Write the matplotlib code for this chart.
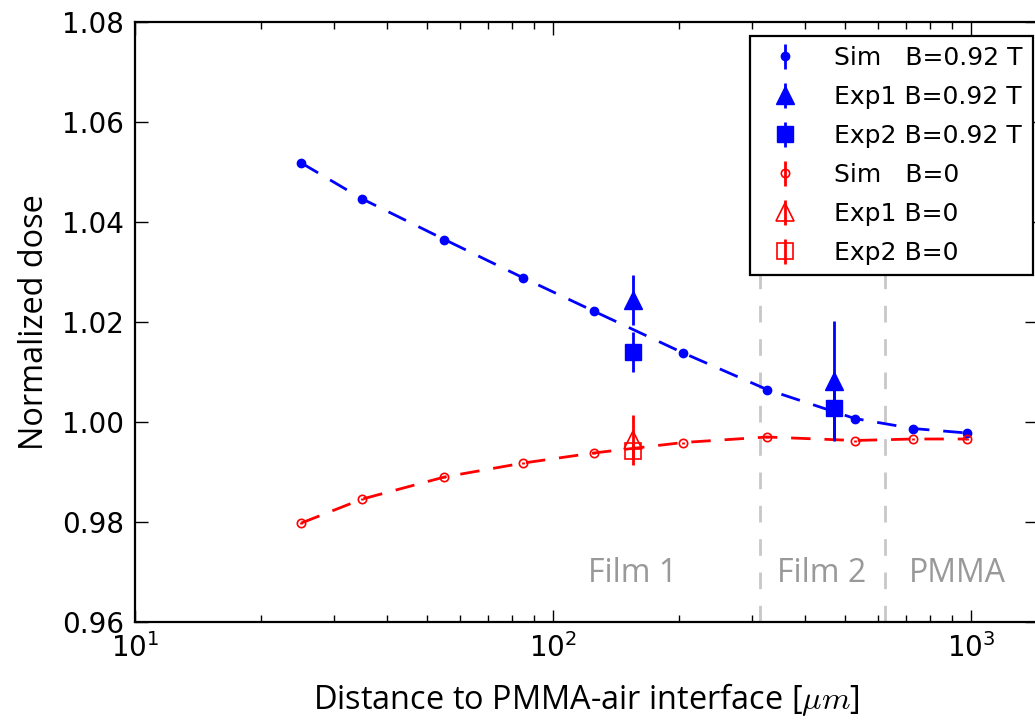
import matplotlib

matplotlib.use("Agg")
import matplotlib.pyplot as plt
from matplotlib.ticker import FormatStrFormatter, LogLocator

# simulated dose vs depth (um), with and without magnetic field
sim_x = [25, 35, 55, 85, 125, 205, 325, 527, 726, 977]
sim_b = [1.0518, 1.0446, 1.0365, 1.0288, 1.0222, 1.0138, 1.0065, 1.0007, 0.9987, 0.9978]
sim_0 = [0.9798, 0.9846, 0.9890, 0.9918, 0.9938, 0.9959, 0.9970, 0.9963, 0.9966, 0.9966]
sim_err = [0.0002] * len(sim_x)

# measurements (film 1 and film 2)
exp_x_b = [155, 470]
exp1_b = [1.0245, 1.0083]
exp1_b_err = [0.005, 0.012]
exp2_b = [1.0140, 1.0028]
exp2_b_err = [0.004, 0.006]

exp_x_0 = [155]
exp1_0 = [0.9965]
exp1_0_err = [0.005]
exp2_0 = [0.9943]
exp2_0_err = [0.0015]

# layer boundaries and region labels
bounds = [313, 623]
regions = ["Film 1", "Film 2", "PMMA"]
region_x = [155, 440, 930]

label_font = ["Open Sans", "DejaVu Sans"]
plt.rcParams["mathtext.fontset"] = "cm"
plt.rcParams["font.size"] = 20

fig = plt.figure(figsize=(10.35, 7.24), dpi=100)
ax = fig.add_axes([135 / 1035, 1 - 622 / 724, 902 / 1035, 600 / 724])

for b in bounds:
    ax.axvline(b, color="#c8c8c8", lw=2, ls=(0, (6, 6)), zorder=1)

ax.plot(sim_x, sim_b, color="b", lw=2, ls=(0, (7, 5)), zorder=2)
ax.plot(sim_x, sim_0, color="r", lw=2, ls=(0, (7, 5)), zorder=2)

ax.errorbar(sim_x, sim_b, yerr=sim_err, fmt="o", color="b", ms=6, elinewidth=2,
            mew=1, label="Sim   B=0.92 T", zorder=3)
ax.errorbar(exp_x_b, exp1_b, yerr=exp1_b_err, fmt="^", color="b", ms=13, elinewidth=2,
            mew=1, label="Exp1 B=0.92 T", zorder=3)
ax.errorbar(exp_x_b, exp2_b, yerr=exp2_b_err, fmt="s", color="b", ms=11, elinewidth=2,
            mew=1, label="Exp2 B=0.92 T", zorder=3)
ax.errorbar(sim_x, sim_0, yerr=sim_err, fmt="o", color="r", mfc="none", ms=6,
            elinewidth=2, mew=1.2, label="Sim   B=0", zorder=3)
ax.errorbar(exp_x_0, exp1_0, yerr=exp1_0_err, fmt="^", color="r", mfc="none", ms=13,
            elinewidth=2, mew=1.2, label="Exp1 B=0", zorder=3)
ax.errorbar(exp_x_0, exp2_0, yerr=exp2_0_err, fmt="s", color="r", mfc="none", ms=11,
            elinewidth=2, mew=1.2, label="Exp2 B=0", zorder=3)

for name, x in zip(regions, region_x):
    ax.text(x, 0.9697, name, ha="center", va="center", color="#999999",
            fontsize=23, family=label_font)

ax.set_xscale("log")
ax.set_xlim(10, 10 ** (1 + 902 / 418))
ax.set_ylim(0.96, 1.08)
ax.set_yticks([0.96, 0.98, 1.00, 1.02, 1.04, 1.06, 1.08])
ax.yaxis.set_major_formatter(FormatStrFormatter("%.2f"))
ax.xaxis.set_major_locator(LogLocator(base=10))
ax.tick_params(which="both", direction="in", top=True, right=True, width=1)
ax.tick_params(which="major", length=9, pad=8, labelsize=20)
ax.tick_params(which="minor", length=5)
ax.tick_params(axis="y", which="minor", left=False, right=False)
for s in ax.spines.values():
    s.set_linewidth(1.6)

ax.set_xlabel(r"Distance to PMMA-air interface [$\mu m$]", fontsize=23.4,
              family=label_font, labelpad=13)
ax.set_ylabel("Normalized dose", fontsize=23.4, family=label_font, labelpad=8)

leg = ax.legend(loc="upper right", numpoints=1, fontsize=18, fancybox=False,
                framealpha=1, edgecolor="black", borderaxespad=0, handletextpad=1.0,
                labelspacing=0.6, bbox_to_anchor=(1033 / 1035, 1 - 36 / 724),
                bbox_transform=fig.transFigure)
leg.get_frame().set_linewidth(1.6)

fig.savefig("out.png", dpi=100)
